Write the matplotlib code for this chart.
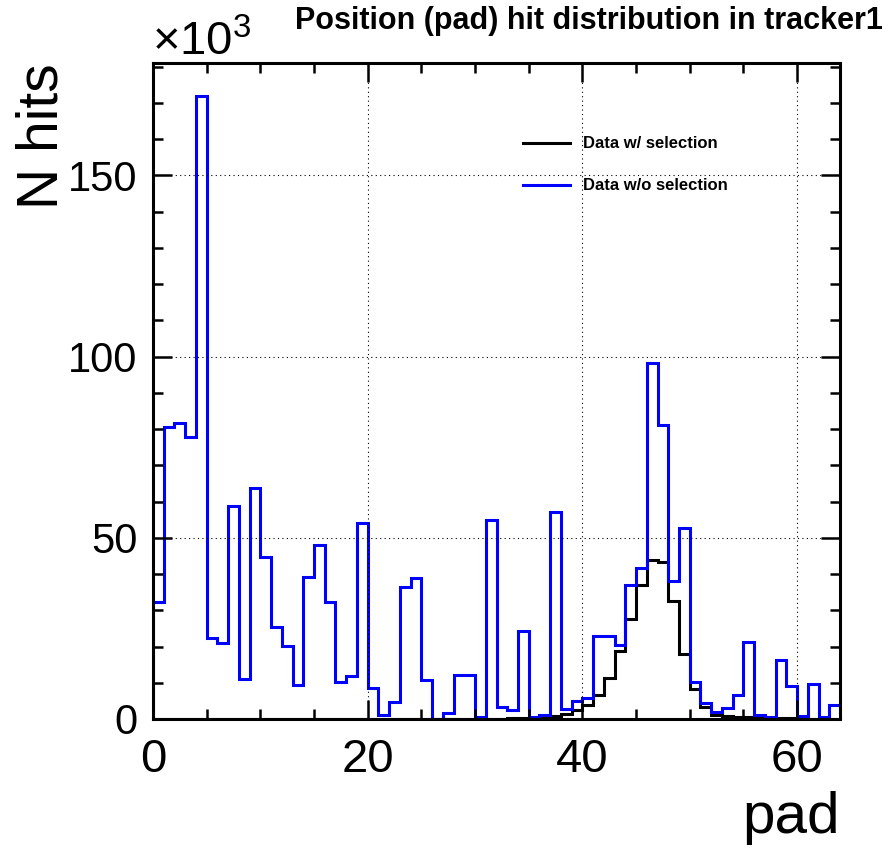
import numpy as np
import matplotlib.pyplot as plt
from matplotlib.ticker import MultipleLocator

plt.rcParams['font.family'] = ['Liberation Sans', 'DejaVu Sans']
plt.rcParams['mathtext.fontset'] = 'custom'
plt.rcParams['mathtext.rm'] = 'Liberation Sans'

# pad bins 0..63, counts in units of 10^3
pad_edges = np.arange(0, 65)
hits_wo_sel = [32.4, 80.7, 81.8, 77.8, 172.0, 22.4, 20.9, 58.7, 11.1, 63.6,
               44.7, 25.3, 20.2, 9.4, 39.1, 48.0, 32.4, 10.2, 11.9, 54.0,
               8.5, 1.0, 4.8, 36.5, 39.0, 10.7, 0.0, 1.7, 12.2, 12.2,
               0.6, 54.8, 3.2, 2.5, 24.2, 0.6, 1.0, 57.2, 2.7, 5.0,
               5.8, 23.0, 22.8, 20.3, 37.1, 41.8, 98.2, 81.1, 38.1, 52.8,
               10.3, 4.4, 2.0, 2.9, 6.7, 21.3, 1.2, 0.5, 16.3, 9.1,
               0.8, 9.6, 0.5, 3.8]
hits_w_sel = [0.0] * 33 + [0.3, 0.3, 0.4, 0.6, 0.7, 1.4, 2.5,
                           3.8, 6.6, 11.4, 18.9, 27.6, 37.1, 43.8, 43.4, 32.5, 18.0,
                           8.3, 3.4, 1.2, 0.7, 0.6, 0.5, 0.3, 0.2, 0.2, 0.2,
                           0.1, 0.1, 0.1, 0.1]

labels = ['Data w/ selection', 'Data w/o selection']
title = 'Position (pad) hit distribution in tracker1'

fig = plt.figure(figsize=(8.92, 8.48), dpi=100)
ax = fig.add_axes([153 / 892, 129 / 848, 687 / 892, 656 / 848])

ax.stairs(hits_w_sel, pad_edges, baseline=0, color='black', linewidth=2.2, label=labels[0])
ax.stairs(hits_wo_sel, pad_edges, baseline=0, color='#0000ff', linewidth=2.2, label=labels[1])

ax.set_xlim(0, 64)
ax.set_ylim(0, 181)

ax.xaxis.set_major_locator(MultipleLocator(20))
ax.xaxis.set_minor_locator(MultipleLocator(5))
ax.yaxis.set_major_locator(MultipleLocator(50))
ax.yaxis.set_minor_locator(MultipleLocator(10))
ax.tick_params(which='both', direction='in', top=True, right=True, width=1.8)
ax.tick_params(which='major', length=14)
ax.tick_params(which='minor', length=7)
ax.tick_params(axis='x', pad=14, labelsize=34)
ax.tick_params(axis='y', pad=11, labelsize=30)
for sp in ax.spines.values():
    sp.set_linewidth(2.2)

ax.grid(True, which='major', color='black', linestyle=(0, (1, 3)), linewidth=0.8)

ax.set_xlabel('pad', fontsize=42, loc='right')
ax.xaxis.set_label_coords(1.0, -0.11)
ax.set_ylabel('N hits', fontsize=41, loc='top')
ax.yaxis.set_label_coords(-0.122, 1.0)

fig.text(152 / 892, 1 - 55 / 848, r'$\mathregular{\times10^{3}}$', fontsize=34, ha='left', va='baseline')
fig.text(589 / 892, 1 - 21 / 848, title, fontsize=22, fontweight='bold', ha='center', va='center')

ax.legend(loc='center left', bbox_to_anchor=(523 / 892, 1 - 165 / 848), bbox_transform=fig.transFigure,
          frameon=False, prop={'size': 12, 'weight': 'bold'}, handlelength=2.8, handletextpad=0.78,
          labelspacing=1.62, borderpad=0, borderaxespad=0)

fig.savefig('out.png', dpi=100)
